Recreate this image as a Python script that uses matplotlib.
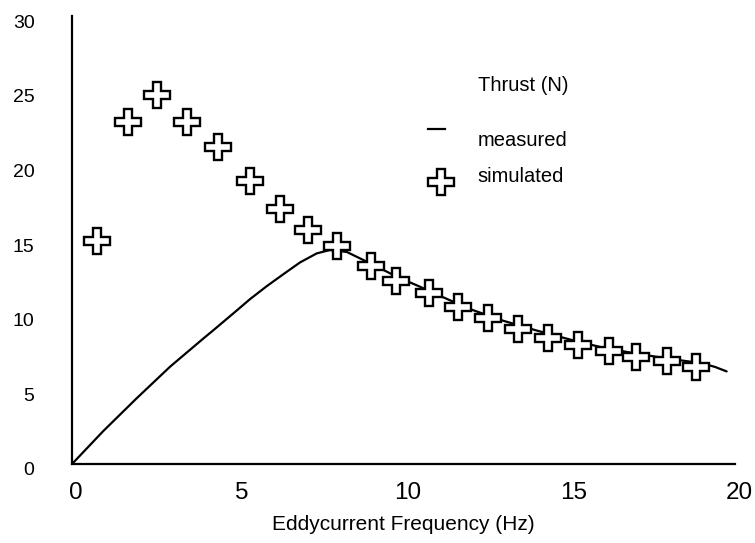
import numpy as np
import matplotlib.pyplot as plt
import matplotlib.transforms as mtransforms

plt.rcParams['font.family'] = ['Liberation Sans', 'DejaVu Sans']

# measured thrust curve (Hz, N)
meas_f = [0.0, 0.94, 1.95, 2.96, 3.96, 4.26, 4.97, 5.37, 5.87, 6.37,
          6.88, 7.38, 7.78, 8.29, 8.79, 9.39, 9.79, 10.5, 11.0, 12.0,
          13.0, 14.0, 15.0, 16.0, 17.0, 18.0, 19.0, 19.4, 19.75]
meas_thrust = [0.0, 2.2, 4.4, 6.52, 8.4, 8.95, 10.28, 11.04, 11.9, 12.7,
               13.5, 14.1, 14.33, 14.2, 13.66, 13.0, 12.55, 11.87, 11.36, 10.38,
               9.6, 8.95, 8.35, 7.8, 7.4, 7.05, 6.75, 6.5, 6.2]

# simulated thrust points
sim_f = [0.75, 1.69, 2.56, 3.47, 4.40, 5.37, 6.27, 7.12, 7.99, 9.02,
         9.77, 10.77, 11.64, 12.55, 13.45, 14.36, 15.26, 16.2, 17.01,
         17.95, 18.82]
sim_thrust = [14.9, 22.9, 24.7, 22.9, 21.2, 18.95, 17.1, 15.7, 14.6, 13.26,
              12.26, 11.45, 10.5, 9.78, 9.04, 8.44, 7.97, 7.57, 7.17,
              6.9, 6.5]

x_ticks = [0, 5, 10, 15, 20]
y_ticks = [0, 5, 10, 15, 20, 25, 30]

fig = plt.figure(figsize=(7.55, 5.43), dpi=100)
ax = fig.add_axes([0.0954, 0.1455, 0.878, 0.825])

ax.plot(meas_f, meas_thrust, color='black', lw=1.6, solid_capstyle='round',
        solid_joinstyle='round')
ax.plot(sim_f, sim_thrust, ls='none', marker='P', ms=18.5,
        mfc='white', mec='black', mew=1.7)

ax.set_xlim(0, 20)
ax.set_ylim(0, 30)
ax.set_xticks(x_ticks)
ax.set_yticks(y_ticks)
ax.tick_params(axis='x', length=0, pad=13, labelsize=17.5)
ax.tick_params(axis='y', length=0, pad=27, labelsize=14)
ax.spines['top'].set_visible(False)
ax.spines['right'].set_visible(False)
for s in ['left', 'bottom']:
    ax.spines[s].set_linewidth(1.6)
ax.set_xlabel('Eddycurrent Frequency (Hz)', fontsize=15, labelpad=8)

# small nudges of the tick labels
shift_x = mtransforms.ScaledTranslation(4 / 100, 0, fig.dpi_scale_trans)
for lab in ax.get_xticklabels():
    lab.set_transform(lab.get_transform() + shift_x)
shift_y = mtransforms.ScaledTranslation(0, -5 / 100, fig.dpi_scale_trans)
for lab in ax.get_yticklabels():
    lab.set_transform(lab.get_transform() + shift_y)

# legend drawn by hand
ax.text(0.612, 0.846, 'Thrust (N)', transform=ax.transAxes,
        fontsize=14.5, va='center', ha='left')
ax.plot([0.537, 0.563], [0.748, 0.748], transform=ax.transAxes,
        color='black', lw=1.6, clip_on=False)
ax.text(0.612, 0.723, 'measured', transform=ax.transAxes,
        fontsize=14.5, va='center', ha='left')
ax.plot([0.557], [0.629], transform=ax.transAxes, ls='none', marker='P',
        ms=18.5, mfc='white', mec='black', mew=1.7, clip_on=False)
ax.text(0.612, 0.641, 'simulated', transform=ax.transAxes,
        fontsize=14.5, va='center', ha='left')

fig.savefig('out.png', dpi=100)
